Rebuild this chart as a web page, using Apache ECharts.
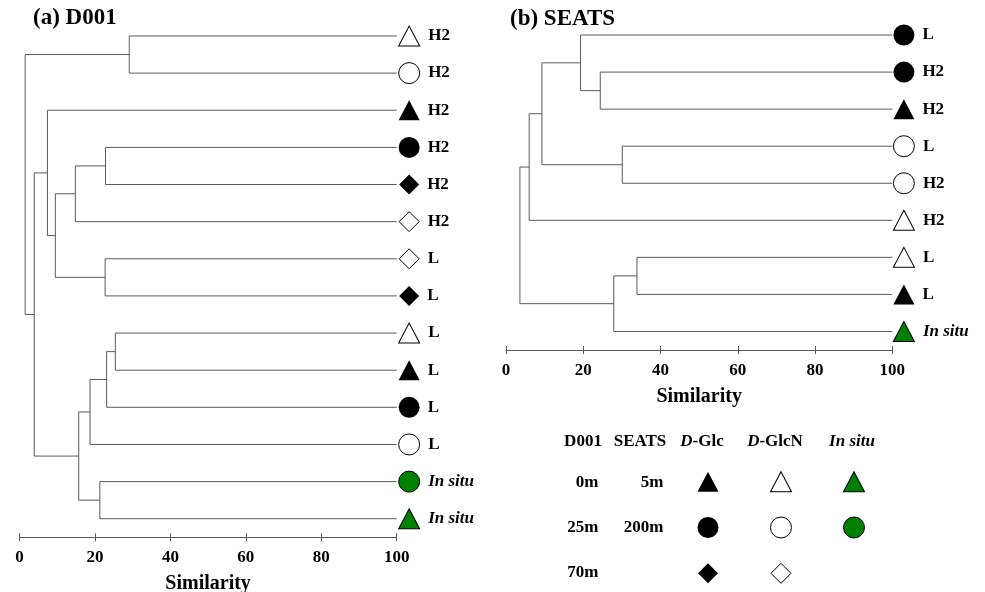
<!DOCTYPE html>
<html>
<head>
<meta charset="utf-8">
<title>Similarity dendrograms</title>
<script src="https://cdn.jsdelivr.net/npm/echarts@6/dist/echarts.min.js"></script>
<style>
  html, body { margin: 0; padding: 0; background: #fff; }
  #chart { width: 985px; height: 592px; }
</style>
</head>
<body>
<div id="chart"></div>
<script>
// (a) D001 leaves, top to bottom
const leftLeafSubstrate = ['D-GlcN','D-GlcN','D-Glc','D-Glc','D-Glc','D-GlcN','D-GlcN','D-Glc','D-GlcN','D-Glc','D-Glc','D-GlcN','In situ','In situ'];
const leftLeafDepth = ['0m','25m','0m','25m','70m','70m','70m','70m','0m','0m','25m','25m','25m','0m'];
const leftLeafLabels = ['H2','H2','H2','H2','H2','H2','L','L','L','L','L','L','In situ','In situ'];
// merges: [child a, child b, similarity]; new clusters get ids from leaf count upward
const leftMerges = [
  [0, 1, 29.1], [3, 4, 22.8], [15, 5, 14.8], [6, 7, 22.7], [16, 17, 9.5],
  [2, 18, 7.4], [8, 9, 25.4], [20, 10, 23.1], [21, 11, 18.7], [12, 13, 21.3],
  [22, 23, 15.7], [19, 24, 3.9], [14, 25, 1.5]
];

// (b) SEATS leaves
const rightLeafSubstrate = ['D-Glc','D-Glc','D-Glc','D-GlcN','D-GlcN','D-GlcN','D-GlcN','D-Glc','In situ'];
const rightLeafDepth = ['200m','200m','5m','200m','200m','5m','5m','5m','5m'];
const rightLeafLabels = ['L','H2','H2','L','H2','H2','L','L','In situ'];
const rightMerges = [
  [1, 2, 24.4], [0, 9, 19.3], [3, 4, 30.1], [10, 11, 9.3],
  [12, 5, 6.0], [6, 7, 33.9], [14, 8, 27.9], [13, 15, 3.6]
];

const xTicks = [0, 20, 40, 60, 80, 100];

// key table
const keyColumns = ['D-Glc', 'D-GlcN', 'In situ'];
const keyRows = ['0m', '25m', '70m'];
const keyCells = [
  ['D-Glc', '0m'], ['D-GlcN', '0m'], ['In situ', '0m'],
  ['D-Glc', '25m'], ['D-GlcN', '25m'], ['In situ', '25m'],
  ['D-Glc', '70m'], ['D-GlcN', '70m']
];

const FONT = '"Liberation Serif", "Times New Roman", serif';
const LINE = '#5a5a5a';

const shapeOf = { '0m': 'triangle', '5m': 'triangle', '25m': 'circle', '200m': 'circle', '70m': 'diamond' };
const fillOf = { 'D-Glc': '#000', 'D-GlcN': '#fff', 'In situ': '#008000' };
const sizeOf = { triangle: [21, 20], circle: 21, diamond: [20, 20] };

function symbolItem(substrate, depth) {
  const s = shapeOf[depth];
  return {
    symbol: s,
    symbolSize: sizeOf[s],
    itemStyle: {
      color: fillOf[substrate], opacity: 1,
      borderColor: '#000', borderWidth: substrate === 'D-Glc' ? 0 : 1
    }
  };
}

function treeSegments(n, merges) {
  const ys = [], hs = [];
  for (let i = 0; i < n; i++) { ys.push(i); hs.push(100); }
  const segs = [];
  merges.forEach(([a, b, h]) => {
    segs.push({ coords: [[hs[a], ys[a]], [h, ys[a]], [h, ys[b]], [hs[b], ys[b]]] });
    ys.push((ys[a] + ys[b]) / 2);
    hs.push(h);
  });
  return segs;
}

function leafPoints(xPos, subs, depths, labels) {
  return subs.map((sub, i) => Object.assign({
    value: [xPos, i],
    label: {
      show: true, position: 'right', distance: 8, formatter: labels[i],
      fontFamily: FONT, fontSize: 17, fontWeight: 'bold', color: '#000',
      fontStyle: labels[i] === 'In situ' ? 'italic' : 'normal'
    }
  }, symbolItem(sub, depths[i])));
}

// main axis with labels at the bottom of the tree grid; a twin axis on a thin
// grid just under it draws the upper half of each tick mark
function simAxis(grid, withLabels) {
  return {
    type: 'value', gridIndex: grid, min: 0, max: 100, interval: 20,
    position: withLabels ? 'bottom' : 'top',
    axisLine: { show: withLabels, onZero: false, lineStyle: { color: LINE, width: 1 } },
    axisTick: { show: true, inside: false, length: 4, lineStyle: { color: LINE } },
    axisLabel: {
      show: withLabels, margin: 12, fontFamily: FONT, fontSize: 17, fontWeight: 'bold', color: '#000',
      customValues: xTicks
    },
    splitLine: { show: false },
    name: withLabels ? 'Similarity' : '',
    nameLocation: 'middle', nameGap: 37,
    nameTextStyle: { fontFamily: FONT, fontSize: 20, fontWeight: 'bold', color: '#000' }
  };
}

function txt(x, y, text, align, extra) {
  return {
    type: 'text', x: x, y: y,
    style: Object.assign({
      text: text, align: align, verticalAlign: 'middle',
      fontFamily: FONT, fontSize: 17, fontWeight: 'bold', fill: '#000'
    }, extra || {})
  };
}

const chart = echarts.init(document.getElementById('chart'));
const italicRich = { i: { fontFamily: FONT, fontSize: 17, fontWeight: 'bold', fontStyle: 'italic', fill: '#000' } };
const fixedGrid = (left, top, width, height) =>
  ({ left: left, top: top, width: width, height: height, containLabel: false, outerBoundsMode: 'none' });

chart.setOption({
  animation: false,
  grid: [
    fixedGrid(19.5, 17.4, 377.2, 519.9),
    fixedGrid(506, 16.5, 386.3, 333.5),
    fixedGrid(671.5, 458.8, 219, 137.4),
    fixedGrid(19.5, 537.3, 377.2, 1),
    fixedGrid(506, 350, 386.3, 1)
  ],
  xAxis: [
    simAxis(0, true),
    simAxis(1, true),
    { type: 'category', gridIndex: 2, data: keyColumns, show: false },
    simAxis(3, false),
    simAxis(4, false)
  ],
  yAxis: [
    { type: 'value', gridIndex: 0, min: -0.5, max: 13.5, inverse: true, show: false },
    { type: 'value', gridIndex: 1, min: -0.5, max: 8.5, inverse: true, show: false },
    { type: 'category', gridIndex: 2, data: keyRows, inverse: true, show: false },
    { type: 'value', gridIndex: 3, show: false },
    { type: 'value', gridIndex: 4, show: false }
  ],
  graphic: [
    txt(33, 18, '(a) D001', 'left', { fontSize: 23 }),
    txt(510, 19, '(b) SEATS', 'left', { fontSize: 23 }),
    txt(583, 442, 'D001', 'center'),
    txt(640, 442, 'SEATS', 'center'),
    txt(702, 442, '{i|D}-Glc', 'center', { rich: italicRich }),
    txt(775, 442, '{i|D}-GlcN', 'center', { rich: italicRich }),
    txt(852, 442, 'In situ', 'center', { fontStyle: 'italic' }),
    txt(598.5, 483, '0m', 'right'),
    txt(598.5, 528, '25m', 'right'),
    txt(598.5, 573, '70m', 'right'),
    txt(663.5, 483, '5m', 'right'),
    txt(663.5, 528, '200m', 'right')
  ],
  series: [
    {
      type: 'lines', coordinateSystem: 'cartesian2d', xAxisIndex: 0, yAxisIndex: 0,
      polyline: true, silent: true,
      lineStyle: { color: LINE, width: 1, opacity: 1 },
      data: treeSegments(leftLeafLabels.length, leftMerges)
    },
    {
      type: 'lines', coordinateSystem: 'cartesian2d', xAxisIndex: 1, yAxisIndex: 1,
      polyline: true, silent: true,
      lineStyle: { color: LINE, width: 1, opacity: 1 },
      data: treeSegments(rightLeafLabels.length, rightMerges)
    },
    {
      type: 'scatter', xAxisIndex: 0, yAxisIndex: 0, clip: false, silent: true,
      data: leafPoints(103.3, leftLeafSubstrate, leftLeafDepth, leftLeafLabels)
    },
    {
      type: 'scatter', xAxisIndex: 1, yAxisIndex: 1, clip: false, silent: true,
      data: leafPoints(103.0, rightLeafSubstrate, rightLeafDepth, rightLeafLabels)
    },
    {
      type: 'scatter', xAxisIndex: 2, yAxisIndex: 2, silent: true,
      data: keyCells.map(c => Object.assign({ value: [c[0], c[1]] }, symbolItem(c[0], c[1])))
    }
  ]
});
</script>
</body>
</html>
